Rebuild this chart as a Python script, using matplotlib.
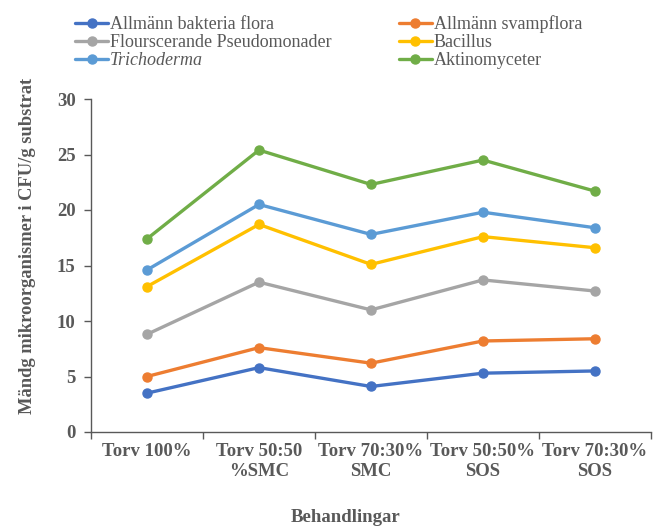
import matplotlib
matplotlib.use("Agg")
import matplotlib.pyplot as plt

plt.rcParams["font.family"] = ["Liberation Serif", "DejaVu Serif"]

categories = ["Torv 100%", "Torv 50:50\n%SMC", "Torv 70:30%\nSMC", "Torv 50:50%\nSOS", "Torv 70:30%\nSOS"]

bakteria = [3.5, 5.8, 4.1, 5.3, 5.5]
svampflora = [5.0, 7.6, 6.2, 8.2, 8.4]
pseudomonader = [8.8, 13.5, 11.0, 13.7, 12.7]
bacillus = [13.1, 18.7, 15.1, 17.6, 16.6]
trichoderma = [14.6, 20.5, 17.8, 19.8, 18.4]
aktinomyceter = [17.4, 25.4, 22.3, 24.5, 21.7]

series = [
    ("Allmänn bakteria flora", bakteria, "#4472C4"),
    ("Allmänn svampflora", svampflora, "#ED7D31"),
    ("Flourscerande Pseudomonader", pseudomonader, "#A5A5A5"),
    ("Bacillus", bacillus, "#FFC000"),
    ("Trichoderma", trichoderma, "#5B9BD5"),
    ("Aktinomyceter", aktinomyceter, "#70AD47"),
]

text_color = "#595959"
axis_color = "#595959"

fig = plt.figure(figsize=(6.61, 5.27), dpi=100)
ax = fig.add_axes([91 / 661, 1 - 432 / 527, 560 / 661, 333 / 527])

x = list(range(len(categories)))
handles = {}
for name, vals, col in series:
    (h,) = ax.plot(x, vals, color=col, lw=2.4, marker="o", ms=6.5, label=name,
                   solid_capstyle="round")
    handles[name] = h

ax.set_xlim(-0.5, len(categories) - 0.5)
ax.set_ylim(0, 30)
ax.set_yticks(range(0, 31, 5))

# kategorier mellan tickmarkeringar
ax.set_xticks(x)
ax.set_xticklabels(categories)
ax.set_xticks([i - 0.5 for i in range(len(categories) + 1)], minor=True)
ax.tick_params(axis="x", which="major", length=0, pad=8)
ax.tick_params(axis="x", which="minor", length=5, width=1, color=axis_color, direction="out")
ax.tick_params(axis="y", length=5, width=1, color=axis_color, pad=6)

for lab in ax.get_xticklabels() + ax.get_yticklabels():
    lab.set_fontweight("bold")
    lab.set_color(text_color)
    lab.set_fontsize(13.5)

for s in ["top", "right"]:
    ax.spines[s].set_visible(False)
for s in ["left", "bottom"]:
    ax.spines[s].set_color(axis_color)
    ax.spines[s].set_linewidth(1)

ax.set_ylabel("Mändg mikroorganismer i CFU/g substrat", fontsize=13.3, fontweight="bold",
              color=text_color)
ax.yaxis.set_label_coords(-0.098, 0.56)
fig.text(346 / 661, 1 - 517 / 527, "Behandlingar", ha="center", va="center",
         fontsize=13.5, fontweight="bold", color=text_color)

order = ["Allmänn bakteria flora", "Flourscerande Pseudomonader", "Trichoderma",
         "Allmänn svampflora", "Bacillus", "Aktinomyceter"]
leg = fig.legend([handles[n] for n in order], order, ncol=2, loc="upper left",
                 bbox_to_anchor=(75 / 661, 1 - 15 / 527), frameon=False, fontsize=13,
                 labelspacing=0.06, handlelength=1.85, handletextpad=0.1, columnspacing=3.7,
                 borderpad=0, borderaxespad=0)
for t in leg.get_texts():
    t.set_color(text_color)
    if t.get_text() == "Trichoderma":
        t.set_style("italic")

fig.savefig("out.png", dpi=100)
